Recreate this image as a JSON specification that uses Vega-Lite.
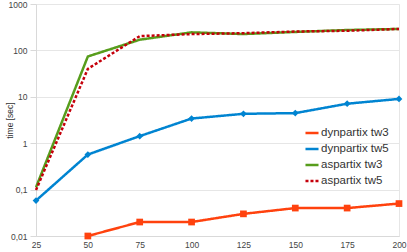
{
  "$schema": "https://vega.github.io/schema/vega-lite/v6.json",
  "width": 363,
  "height": 232,
  "autosize": {"type": "none"},
  "padding": {"left": 36, "top": 4, "right": 8, "bottom": 16},
  "background": "white",
  "config": {
    "font": "Liberation Sans",
    "view": {"stroke": "#e6e6e6", "strokeWidth": 1}
  },
  "data": {
    "values": [
      {"n": 50, "t": 0.01, "s": "dynpartix tw3"},
      {"n": 75, "t": 0.02, "s": "dynpartix tw3"},
      {"n": 100, "t": 0.02, "s": "dynpartix tw3"},
      {"n": 125, "t": 0.03, "s": "dynpartix tw3"},
      {"n": 150, "t": 0.04, "s": "dynpartix tw3"},
      {"n": 175, "t": 0.04, "s": "dynpartix tw3"},
      {"n": 200, "t": 0.05, "s": "dynpartix tw3"},
      {"n": 25, "t": 0.058, "s": "dynpartix tw5"},
      {"n": 50, "t": 0.57, "s": "dynpartix tw5"},
      {"n": 75, "t": 1.42, "s": "dynpartix tw5"},
      {"n": 100, "t": 3.4, "s": "dynpartix tw5"},
      {"n": 125, "t": 4.3, "s": "dynpartix tw5"},
      {"n": 150, "t": 4.45, "s": "dynpartix tw5"},
      {"n": 175, "t": 7.1, "s": "dynpartix tw5"},
      {"n": 200, "t": 9.0, "s": "dynpartix tw5"},
      {"n": 25, "t": 0.112, "s": "aspartix tw3"},
      {"n": 50, "t": 74, "s": "aspartix tw3"},
      {"n": 75, "t": 170, "s": "aspartix tw3"},
      {"n": 100, "t": 245, "s": "aspartix tw3"},
      {"n": 125, "t": 225, "s": "aspartix tw3"},
      {"n": 150, "t": 250, "s": "aspartix tw3"},
      {"n": 175, "t": 275, "s": "aspartix tw3"},
      {"n": 200, "t": 290, "s": "aspartix tw3"},
      {"n": 25, "t": 0.098, "s": "aspartix tw5"},
      {"n": 50, "t": 40, "s": "aspartix tw5"},
      {"n": 75, "t": 203, "s": "aspartix tw5"},
      {"n": 100, "t": 225, "s": "aspartix tw5"},
      {"n": 125, "t": 235, "s": "aspartix tw5"},
      {"n": 150, "t": 255, "s": "aspartix tw5"},
      {"n": 175, "t": 265, "s": "aspartix tw5"},
      {"n": 200, "t": 290, "s": "aspartix tw5"}
    ]
  },
  "encoding": {
    "x": {
      "field": "n", "type": "quantitative",
      "scale": {"domain": [25, 200], "nice": false, "zero": false},
      "axis": {
        "values": [25, 50, 75, 100, 125, 150, 175, 200],
        "title": null, "grid": false, "ticks": false,
        "domainColor": "#d9d9d9", "labelFontSize": 8.5, "labelColor": "#444",
        "labelPadding": 4, "labelFlush": false
      }
    },
    "y": {
      "field": "t", "type": "quantitative",
      "scale": {"type": "log", "domain": [0.01, 1000], "nice": false},
      "axis": {
        "values": [0.01, 0.1, 1, 10, 100, 1000],
        "format": "~g",
        "labelExpr": "replace(datum.label, '.', ',')",
        "title": "time [sec]", "titleFontSize": 8.5, "titleFontWeight": "normal",
        "titleColor": "#333", "titleX": -27, "titleY": 116, "titleAngle": 270,
        "titleAlign": "center", "titleBaseline": "middle",
        "gridColor": "#e6e6e6", "domainColor": "#d9d9d9", "tickColor": "#d9d9d9",
        "tickSize": 6, "labelFontSize": 8.5, "labelColor": "#444", "labelPadding": 3
      }
    },
    "color": {
      "field": "s", "type": "nominal",
      "scale": {
        "domain": ["dynpartix tw3", "dynpartix tw5", "aspartix tw3", "aspartix tw5"],
        "range": ["#ff420e", "#0084d1", "#579d1c", "#c5000b"]
      }
    }
  },
  "layer": [
    {
      "mark": {"type": "line", "strokeWidth": 2.5},
      "encoding": {
        "color": {
          "field": "s", "type": "nominal",
          "legend": {
            "title": null, "orient": "none", "legendX": 268, "legendY": 121,
            "labelFontSize": 11.5, "labelColor": "#333", "rowPadding": 2,
            "symbolType": "stroke", "symbolSize": 170, "symbolStrokeWidth": 2.5,
            "labelOffset": 1,
            "encode": {
              "symbols": {
                "update": {
                  "strokeDash": {"scale": "strokeDash", "field": "value"}
                }
              }
            }
          }
        },
        "strokeDash": {
          "field": "s", "type": "nominal",
          "scale": {
            "domain": ["dynpartix tw3", "dynpartix tw5", "aspartix tw3", "aspartix tw5"],
            "range": [[1, 0], [1, 0], [1, 0], [3, 2]]
          },
          "legend": null
        }
      }
    },
    {
      "transform": [{"filter": "indexof(datum.s, 'dynpartix') >= 0"}],
      "mark": {"type": "point", "filled": true, "size": 45, "opacity": 1},
      "encoding": {
        "shape": {
          "field": "s", "type": "nominal",
          "scale": {
            "domain": ["dynpartix tw3", "dynpartix tw5"],
            "range": ["square", "diamond"]
          },
          "legend": null
        }
      }
    }
  ]
}
